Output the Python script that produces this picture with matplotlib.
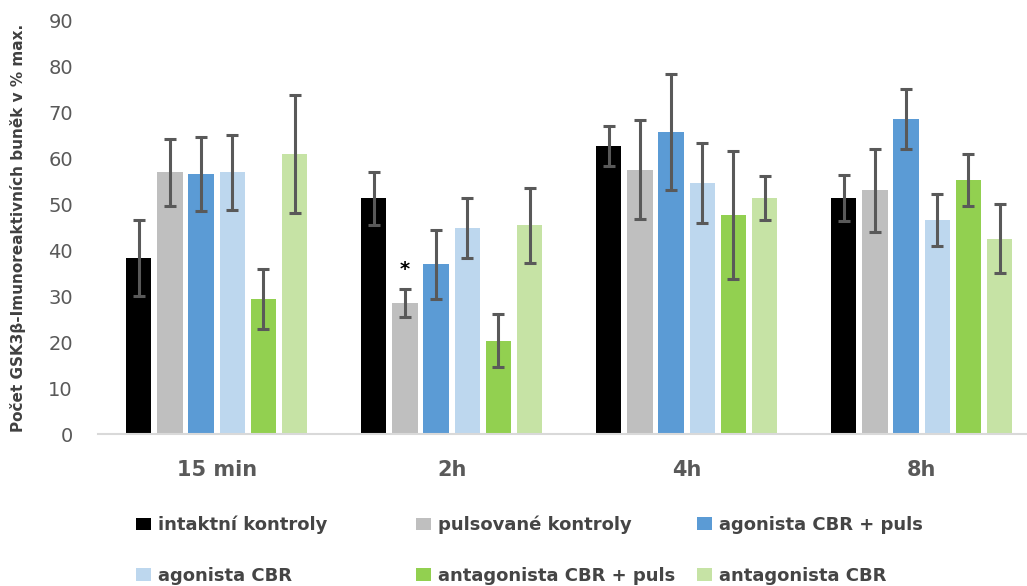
import matplotlib
matplotlib.use("Agg")
import matplotlib.pyplot as plt
from matplotlib.patches import Patch
import numpy as np

plt.rcParams['font.family'] = ['DejaVu Sans']

# Time points and treatment groups
timepoints = ["15 min", "2h", "4h", "8h"]
groups = ["intaktní kontroly", "pulsované kontroly", "agonista CBR + puls",
          "agonista CBR", "antagonista CBR + puls", "antagonista CBR"]
colors = ["#000000", "#BFBFBF", "#5B9BD5", "#BDD7EE", "#92D050", "#C6E3A5"]

# Mean counts (% of max) per group, one value per time point
intaktni = [38.4, 51.4, 62.7, 51.4]
pulsovane = [57.0, 28.5, 57.6, 53.1]
agonista_puls = [56.7, 37.0, 65.8, 68.6]
agonista = [57.0, 44.9, 54.7, 46.6]
antagonista_puls = [29.4, 20.3, 47.7, 55.3]
antagonista = [61.0, 45.5, 51.4, 42.6]

# Error bar half-widths
intaktni_err = [8.3, 5.8, 4.4, 4.95]
pulsovane_err = [7.3, 3.1, 10.75, 9.05]
agonista_puls_err = [8.1, 7.5, 12.55, 6.5]
agonista_err = [8.2, 6.5, 8.75, 5.65]
antagonista_puls_err = [6.45, 5.75, 14.0, 5.65]
antagonista_err = [12.85, 8.2, 4.85, 7.45]

series = [intaktni, pulsovane, agonista_puls, agonista, antagonista_puls, antagonista]
errors = [intaktni_err, pulsovane_err, agonista_puls_err, agonista_err,
          antagonista_puls_err, antagonista_err]

fig = plt.figure(figsize=(10.27, 5.86), dpi=100)
W, H = 1027, 586
ax = fig.add_axes([98 / W, (H - 434) / H, 940 / W, 413 / H])

x = np.arange(len(timepoints))
pitch = 0.1328
bar_w = 0.1085
err_color = "#595959"

for i, (vals, errs, c) in enumerate(zip(series, errors, colors)):
    pos = x + (i - 2.5) * pitch
    ax.bar(pos, vals, width=bar_w, color=c, zorder=2)
    ax.errorbar(pos, vals, yerr=errs, fmt="none", ecolor=err_color,
                elinewidth=2.2, capsize=4.5, capthick=2.2, zorder=3)

# significance mark above pulsované kontroly at 2h
ax.text(1 + (1 - 2.5) * pitch, 35.9, "*", ha="center", va="center",
        fontsize=14, fontweight="bold", color="#000000", zorder=4)

ax.set_xlim(-0.505, 3.495)
ax.set_ylim(0, 90)
ax.set_yticks(np.arange(0, 91, 10))
ax.set_xticks(x)
ax.set_xticklabels(timepoints, fontweight="bold")

for s in ["top", "right", "left"]:
    ax.spines[s].set_visible(False)
ax.spines["bottom"].set_color("#D9D9D9")
ax.spines["bottom"].set_linewidth(1.5)

ax.tick_params(axis="y", length=0, pad=18, labelsize=14, labelcolor="#595959")
ax.tick_params(axis="x", length=0, pad=19, labelsize=15, labelcolor="#595959")

ax.set_ylabel("Počet GSK3β-Imunoreaktivních buněk v % max.", fontsize=11,
              color="#404040", fontweight="bold")
ax.yaxis.set_label_coords(-72 / 940, 0.5)

# legend entries placed in a 3 x 2 grid below the axes
legend_pos = [(136, 525), (416, 525), (697, 525),
              (136, 576), (416, 576), (697, 576)]
for name, c, (lx, ly) in zip(groups, colors, legend_pos):
    fig.legend(handles=[Patch(facecolor=c, edgecolor="none", label=name)],
               loc="center left", bbox_to_anchor=(lx / W, 1 - ly / H),
               frameon=False, prop={"size": 13, "weight": "bold"},
               handlelength=0.83, handleheight=0.72,
               handletextpad=0.39, borderpad=0, borderaxespad=0,
               labelcolor="#454545")

fig.savefig("out.png", dpi=100)
